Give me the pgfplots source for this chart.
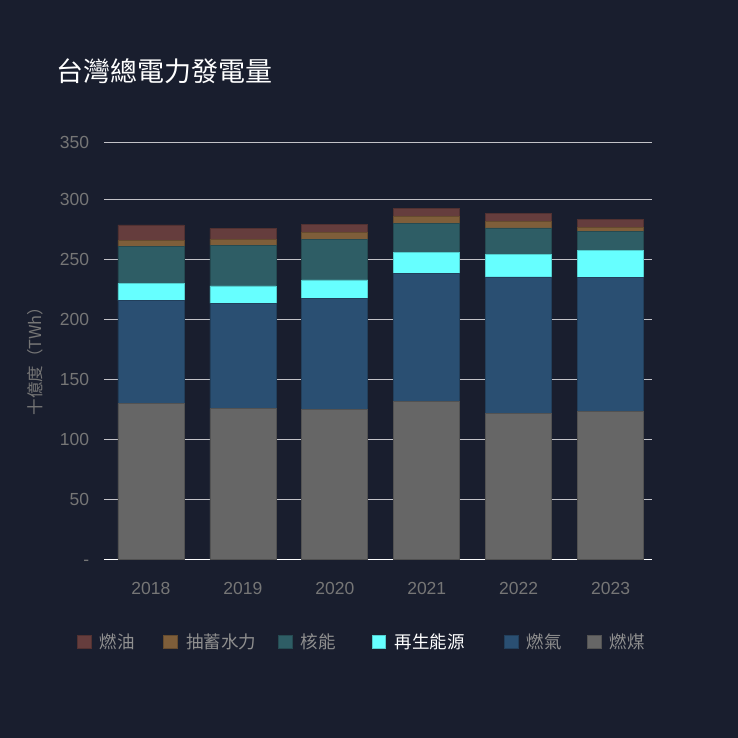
\documentclass[border=0pt]{standalone}
\usepackage{pgfplots}
\usepackage{pgfplotstable}
\pgfplotsset{compat=1.18}
\usepackage{fontspec}
\setmainfont{Liberation Sans}
\newfontfamily\cjk{Noto Sans CJK TC}
\definecolor{bgc}{RGB}{25,30,46}
\definecolor{ccoal}{RGB}{102,102,102}
\definecolor{cgas}{RGB}{42,79,114}
\definecolor{cren}{RGB}{102,255,255}
\definecolor{cnuc}{RGB}{46,93,101}
\definecolor{cpump}{RGB}{126,94,58}
\definecolor{coil}{RGB}{101,61,61}
\definecolor{tickc}{RGB}{118,118,118}
\definecolor{legc}{RGB}{143,143,143}
\definecolor{gridc}{RGB}{195,195,200}
\newcommand\tickfont{\fontsize{17.5bp}{21bp}\selectfont}
\pgfplotstableread{
x coal gas ren nuc pump oil
0 130.0 85.5 14.5 30.5 5.0 13.1
1 125.5 87.8 14.5 34.1 5.0 8.9
2 124.7 92.8 15.3 34.1 5.6 6.7
3 131.9 106.4 17.5 24.2 5.8 6.4
4 121.7 113.6 18.9 21.9 5.2 7.0
5 123.3 111.7 22.5 15.5 3.9 6.4
}\datatable
\begin{document}
\begin{tikzpicture}[x=1bp,y=1bp]
\useasboundingbox (0,0) rectangle (738,738);
\fill[bgc] (0,0) rectangle (738,738);
\node[anchor=west, inner sep=0pt, text=white, font=\cjk\fontsize{27bp}{31bp}\selectfont] at (56,666.5) {台灣總電力發電量};
\begin{axis}[
  at={(104bp,178.7bp)}, anchor=south west,
  scale only axis, width=548bp, height=416.6bp,
  xmin=-0.51, xmax=5.45, ymin=0, ymax=347.2,
  ybar stacked, bar width=66bp,
  axis x line*=bottom, axis y line*=left,
  x axis line style={white, line width=1.3bp},
  y axis line style={draw=none},
  xtick={0,...,5}, xticklabels={2018,2019,2020,2021,2022,2023},
  ytick={0,50,...,300}, yticklabels={\vphantom{0}-,50,100,150,200,250,300},
  extra y ticks={347.2}, extra y tick labels={350},
  major tick length=0pt,
  /pgf/number format/assume math mode=true,
  ymajorgrids, grid style={gridc, line width=1.2bp},
  tick label style={font=\tickfont, text=tickc},
  xticklabel style={inner sep=0pt, yshift=-22.7bp},
  yticklabel style={inner sep=0pt, xshift=-14.7bp},
  every axis y label/.style={at={(axis description cs:-0.1259,0.4856)}, rotate=90, anchor=center, inner sep=0pt, font=\cjk\fontsize{16.5bp}{20bp}\selectfont, text=tickc},
  ylabel={十億度（TWh）},
  reverse legend,
  legend columns=6,
  legend style={at={(axis description cs:-0.0493,-0.198)}, anchor=west, draw=none, fill=none, inner sep=0pt, column sep=0pt,
    nodes={inner sep=0pt, text=legc, font=\cjk\fontsize{17.5bp}{21bp}\selectfont}},
  myleg/.style={legend image code/.code={\fill[##1] (0bp,-6.75bp) rectangle (13.5bp,6.75bp);}},
]
\addplot[fill=ccoal, draw=ccoal!80!black, line width=0.6bp, myleg] table[x=x,y=coal]{\datatable};
\addplot[fill=cgas, draw=cgas!80!black, line width=0.6bp, myleg] table[x=x,y=gas]{\datatable};
\addplot[fill=cren, draw=cren!80!black, line width=0.6bp, myleg] table[x=x,y=ren]{\datatable};
\addplot[fill=cnuc, draw=cnuc!80!black, line width=0.6bp, myleg] table[x=x,y=nuc]{\datatable};
\addplot[fill=cpump, draw=cpump!80!black, line width=0.6bp, myleg] table[x=x,y=pump]{\datatable};
\addplot[fill=coil, draw=coil!80!black, line width=0.6bp, myleg] table[x=x,y=oil]{\datatable};
\legend{{\hspace{8.5bp}燃煤},
        {\hspace{8.5bp}\makebox[60.2bp][l]{燃氣}},
        {\hspace{8.5bp}\makebox[109.8bp][l]{\textcolor{white}{再生能源}}},
        {\hspace{8.5bp}\makebox[71bp][l]{核能}},
        {\hspace{8.5bp}\makebox[92.3bp][l]{抽蓄水力}},
        {\hspace{8.5bp}\makebox[63.7bp][l]{燃油}}}
\end{axis}
\end{tikzpicture}
\end{document}
